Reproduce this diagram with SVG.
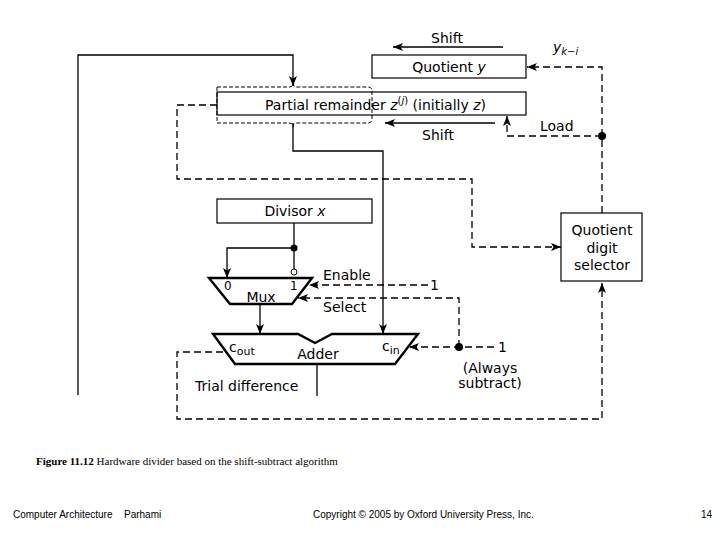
<svg xmlns="http://www.w3.org/2000/svg" width="720" height="540" viewBox="0 0 720 540">
<style>
.s{fill:none;stroke:#000;stroke-width:1.3}
.d{fill:none;stroke:#000;stroke-width:1.3;stroke-dasharray:7 4}
.f{fill:none;stroke:#000;stroke-width:1;stroke-dasharray:4 2}
.b{fill:#fff;stroke:#000;stroke-width:1.2}
.m{fill:#fff;stroke:#000;stroke-width:2.4;stroke-linejoin:miter}
.t{font-family:"DejaVu Sans","Liberation Sans",sans-serif;font-size:14px;fill:#000;font-weight:normal}
.sm{font-family:"DejaVu Sans","Liberation Sans",sans-serif;font-size:12px;fill:#000}
.ft{font-family:"Liberation Sans",Arial,sans-serif;font-size:10px;fill:#000}
.cap{font-family:"Liberation Serif","Times New Roman",serif;font-size:11px;fill:#000}
</style>
<defs>
<marker id="a" viewBox="0 0 10 8" refX="10" refY="4" markerWidth="10" markerHeight="8" markerUnits="userSpaceOnUse" orient="auto">
<path d="M0,0 L10,4 L0,8 L2.5,4 Z" fill="#000"/>
</marker>
</defs>

<g id="connectors">
<polyline class="s" points="78,395 78,55 293,55 293,86" marker-end="url(#a)"/>
<polyline class="s" points="293,123 293,151 383,151 383,334" marker-end="url(#a)"/>
<line class="s" x1="503" y1="47" x2="393" y2="47" marker-end="url(#a)"/>
<line class="s" x1="495" y1="123" x2="385" y2="123" marker-end="url(#a)"/>
<polyline class="s" points="294,223 294,248 227,248 227,278" marker-end="url(#a)"/>
<line class="s" x1="294" y1="248" x2="294" y2="269"/>
<circle cx="294" cy="272" r="3" fill="#fff" stroke="#000" stroke-width="1"/>
<circle cx="294" cy="248" r="3.5" fill="#000"/>
<line class="s" x1="260" y1="304" x2="260" y2="334" marker-end="url(#a)"/>
<line class="s" x1="317" y1="364" x2="317" y2="396"/>
<polyline class="d" points="602,213 602,67 527,67" marker-end="url(#a)"/>
<circle cx="602" cy="136" r="4" fill="#000"/>
<polyline class="d" points="602,136 507,136 507,116" marker-end="url(#a)"/>
<polyline class="d" points="217,105 177,105 177,179 472,179 472,247 561,247" marker-end="url(#a)"/>
<line class="d" x1="428" y1="285" x2="309" y2="285" marker-end="url(#a)"/>
<polyline class="d" points="459,347 459,298 298,298" marker-end="url(#a)"/>
<line class="d" x1="494" y1="347" x2="409" y2="347" marker-end="url(#a)"/>
<circle cx="459" cy="347" r="4" fill="#000"/>
<polyline class="d" points="223,352 177,352 177,419 602,419 602,283" marker-end="url(#a)"/>
</g>

<g id="quotient">
<rect class="b" x="372" y="55" width="154" height="23"/>
<text class="t" x="449" y="72" text-anchor="middle">Quotient <tspan font-style="italic">y</tspan></text>
<text class="t" x="447" y="43" text-anchor="middle">Shift</text>
<text class="t" x="553" y="52" font-style="italic">y<tspan font-size="10" dy="3">k</tspan><tspan font-size="10" font-style="normal">−</tspan><tspan font-size="10">i</tspan></text>
</g>

<g id="partial-remainder">
<rect class="b" x="217" y="92" width="309" height="23"/>
<path class="f" d="M217,87 H289 Q293,87 293,83 Q293,87 297,87 H368 Q372,87 372,91 V119 Q372,123 368,123 H297 Q293,123 293,127 Q293,123 289,123 H217 Z"/>
<text class="t" x="265" y="110">Partial remainder <tspan font-style="italic">z</tspan><tspan font-size="10" dy="-6">(<tspan font-style="italic">j</tspan>)</tspan><tspan dy="6"> (initially </tspan><tspan font-style="italic">z</tspan>)</text>
<text class="t" x="438" y="140" text-anchor="middle">Shift</text>
<text class="t" x="540" y="131">Load</text>
</g>

<g id="divisor">
<rect class="b" x="217" y="199" width="155" height="24"/>
<text class="t" x="295" y="216" text-anchor="middle">Divisor <tspan font-style="italic">x</tspan></text>
</g>

<g id="mux">
<polygon class="m" points="209,278 312,278 292,304 230,304"/>
<text class="sm" x="224" y="290">0</text>
<text class="sm" x="290" y="290">1</text>
<text class="t" x="261" y="302" text-anchor="middle">Mux</text>
<text class="t" x="323" y="280">Enable</text>
<text class="t" x="323" y="312">Select</text>
<text class="t" x="430" y="290">1</text>
</g>

<g id="adder">
<polygon class="m" points="213,334 298,334 315,343 332,334 418,334 395,364 235,364"/>
<text class="t" x="229" y="352">c<tspan font-size="11" dy="3">out</tspan></text>
<text class="t" x="318" y="359" text-anchor="middle">Adder</text>
<text class="t" x="382" y="351">c<tspan font-size="11" dy="3">in</tspan></text>
<text class="t" x="195" y="391">Trial difference</text>
<text class="t" x="498" y="352">1</text>
<text class="t" x="490" y="373" text-anchor="middle">(Always</text>
<text class="t" x="490" y="388" text-anchor="middle">subtract)</text>
</g>

<g id="quotient-digit-selector">
<rect class="b" x="561" y="213" width="81" height="68"/>
<text class="t" x="602" y="235" text-anchor="middle">Quotient</text>
<text class="t" x="602" y="253" text-anchor="middle">digit</text>
<text class="t" x="602" y="270" text-anchor="middle">selector</text>
</g>

<text class="cap" x="36" y="465"><tspan font-weight="bold">Figure 11.12</tspan> Hardware divider based on the shift-subtract algorithm</text>
<text class="ft" x="13" y="518">Computer Architecture</text>
<text class="ft" x="124" y="518">Parhami</text>
<text class="ft" x="313" y="518">Copyright © 2005 by Oxford University Press, Inc.</text>
<text class="ft" x="701" y="518">14</text>
</svg>
